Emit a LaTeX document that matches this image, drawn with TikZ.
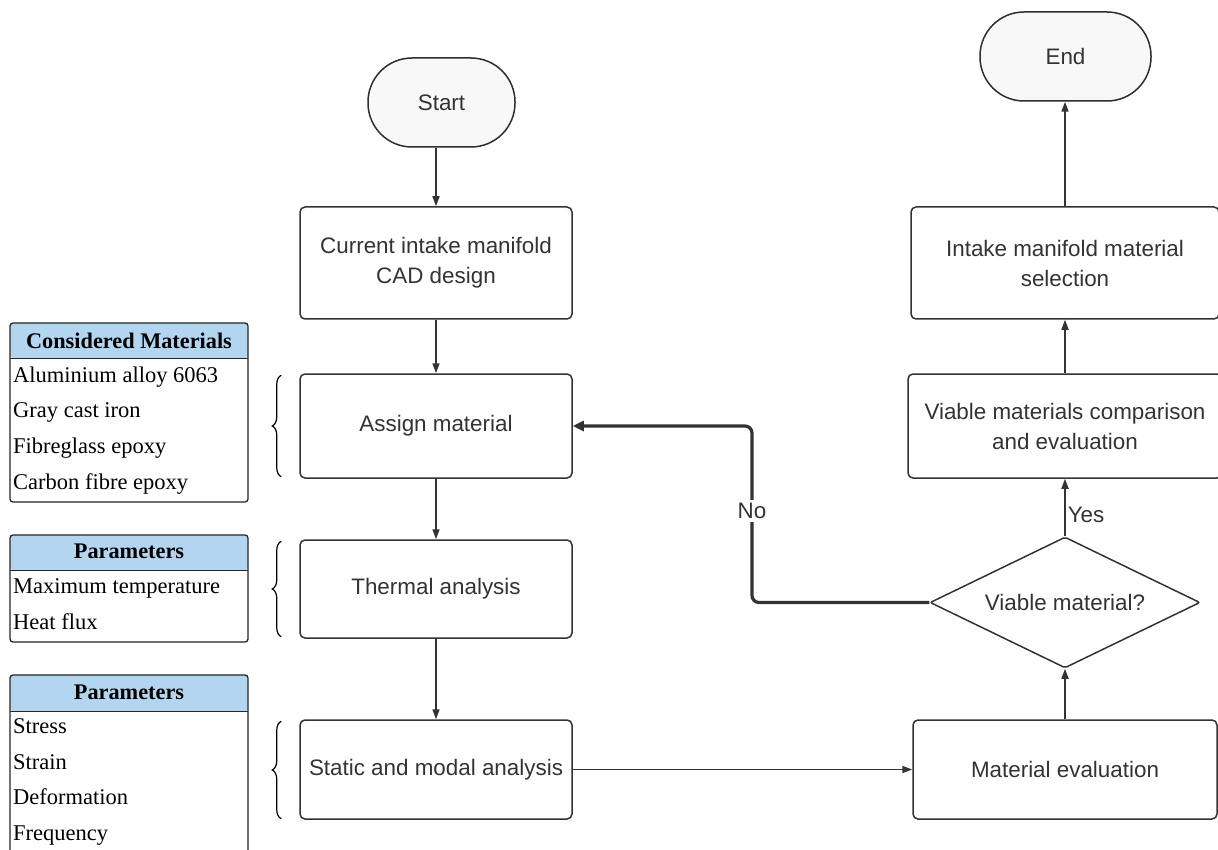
\documentclass[tikz,border=0pt]{standalone}
\usepackage{fontspec}
\setmainfont{Liberation Serif}
\setsansfont{Liberation Sans}
\usetikzlibrary{arrows.meta,shapes.geometric,decorations.pathreplacing,calc}
\definecolor{ink}{HTML}{333333}
\definecolor{hdr}{HTML}{B4D5EF}
\definecolor{termfill}{HTML}{F8F8F8}
\begin{document}
\begin{tikzpicture}[x=1pt,y=-1pt,
  font=\sffamily\fontsize{22.4}{30}\selectfont,
  box/.style={draw=ink, line width=1.5pt, rounded corners=5pt, text=ink, align=center,
    minimum width=272pt, inner sep=0pt},
  term/.style={draw=ink!90!black, line width=1.5pt, rounded corners=44pt, fill=termfill, text=ink,
    inner sep=0pt},
  dec/.style={draw=ink, line width=1.5pt, diamond, aspect=2.06, minimum width=270pt,
    minimum height=131pt, inner sep=0pt, text=ink, rounded corners=2pt},
  arr/.style={draw=ink, line width=1.6pt, -{Triangle[length=10pt,width=7pt]}},
  noarr/.style={draw=ink, line width=3.2pt, rounded corners=7pt, -{Triangle[length=11pt,width=10pt]}},
  lbl/.style={text=ink, inner sep=2pt},
  tframe/.style={draw=black!85, line width=1.3pt, rounded corners=3pt, minimum width=238pt, inner sep=0pt},
  thead/.style={fill=hdr, rounded corners=3pt, minimum width=238pt, inner sep=0pt},
  ttitle/.style={anchor=base, inner sep=0pt, font=\rmfamily\bfseries\fontsize{22.3}{26}\selectfont},
  trow/.style={anchor=base west, inner sep=0pt, font=\rmfamily\fontsize{22.5}{26}\selectfont},
  brc/.style={draw=black, line width=1.2pt, decorate, decoration={brace, amplitude=9pt}}
]
\useasboundingbox (0,0) rectangle (1218,850);
\fill[white] (0,0) rectangle (1218,850);

% flowchart nodes
\node[term, minimum width=147pt, minimum height=89pt] (start) at (441.5,102.5) {Start};
\node[term, minimum width=171pt, minimum height=89pt] (end) at (1065.5,56.5) {End};
\node[box, minimum height=112pt] (cad) at (436,263) {Current intake manifold\\CAD design};
\node[box, minimum height=104pt] (assign) at (436,426) {Assign material};
\node[box, minimum height=98pt] (thermal) at (436,589) {Thermal analysis};
\node[box, minimum height=99pt] (static) at (436,769.5) {Static and modal analysis};
\node[box, minimum width=308pt, minimum height=112pt] (select) at (1065,263) {Intake manifold material\\selection};
\node[box, minimum width=314pt, minimum height=104pt] (compare) at (1065,426) {Viable materials comparison\\and evaluation};
\node[box, minimum width=304pt, minimum height=99pt] (eval) at (1065,769.5) {Material evaluation};
\node[dec] (viable) at (1065,602.5) {Viable material?};

% connectors
\draw[arr] (cad.north |- start.south) -- (cad.north);
\draw[arr] (cad) -- (assign);
\draw[arr] (assign) -- (thermal);
\draw[arr] (thermal) -- (static);
\draw[arr] (static) -- (eval);
\draw[arr] (eval) -- (viable);
\draw[arr] (viable.north) -- node[lbl, anchor=west, pos=0.37] {Yes} (compare.south);
\draw[arr] (compare) -- (select);
\draw[arr] (select.north) -- (end.south -| select.north);
\coordinate (turn) at (752,426);
\draw[noarr] (viable.west) -| (turn) -- (assign.east);
\node[lbl, fill=white, inner sep=3pt] (no) at (752,511) {No};

% table 1
\node[thead, minimum height=35pt] (t1h) at (129,340.5) {};
\node[tframe, minimum height=179pt] (t1) at (129,412.5) {};
\draw[black!85, line width=1.3pt] (t1h.south west) -- (t1h.south east);
\node[ttitle] (t1t) at (129,348) {Considered Materials};
\node[trow] (t1a) at (13,382) {Aluminium alloy 6063};
\node[trow] (t1b) at (13,417.5) {Gray cast iron};
\node[trow] (t1c) at (13,453) {Fibreglass epoxy};
\node[trow] (t1d) at (13,489) {Carbon fibre epoxy};

% table 2
\node[thead, minimum height=35pt] (t2h) at (129,552.5) {};
\node[tframe, minimum height=107pt] (t2) at (129,588.5) {};
\draw[black!85, line width=1.3pt] (t2h.south west) -- (t2h.south east);
\node[ttitle] (t2t) at (129,558.5) {Parameters};
\node[trow] (t2a) at (13,593.5) {Maximum temperature};
\node[trow] (t2b) at (13,629.5) {Heat flux};

% table 3
\node[thead, minimum height=36pt] (t3h) at (129,693) {};
\node[tframe, minimum height=190pt] (t3) at (129,770) {};
\draw[black!85, line width=1.3pt] (t3h.south west) -- (t3h.south east);
\node[ttitle] (t3t) at (129,699) {Parameters};
\node[trow] (t3a) at (13,733.5) {Stress};
\node[trow] (t3b) at (13,769) {Strain};
\node[trow] (t3c) at (13,804.5) {Deformation};
\node[trow] (t3d) at (13,840.5) {Frequency};

% braces
\draw[brc] ($(assign.south west)+(-18,-2)$) -- ($(assign.north west)+(-18,2)$);
\draw[brc] ($(thermal.south west)+(-18,-2)$) -- ($(thermal.north west)+(-18,2)$);
\draw[brc] ($(static.south west)+(-18,-1)$) -- ($(static.north west)+(-18,2)$);
\end{tikzpicture}
\end{document}
